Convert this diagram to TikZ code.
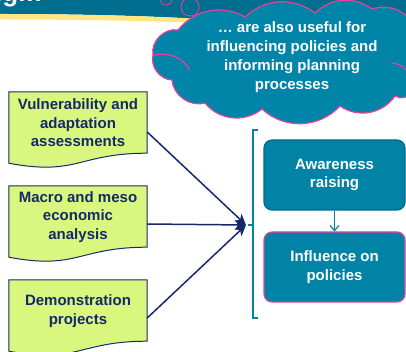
\documentclass[tikz,border=0pt]{standalone}
\usepackage{fontspec}
\setmainfont{Liberation Sans}
\usepackage{xcolor}
\usepackage{tikz}
\usetikzlibrary{arrows.meta,backgrounds}

\definecolor{headteal}{HTML}{006F8F}
\definecolor{cloudteal}{HTML}{0084A8}
\definecolor{boxteal}{HTML}{0083A5}
\definecolor{darkteal}{HTML}{006A85}
\definecolor{pinkline}{HTML}{E8409A}
\definecolor{docfill}{HTML}{D9F77E}
\definecolor{navy}{HTML}{15296A}
\definecolor{stripe}{HTML}{FFE680}

\tikzset{
  docbox/.style={minimum width=138pt,minimum height=62pt,align=center,
    text=navy,font=\bfseries\fontsize{15}{18.5}\selectfont},
  docline/.style={draw=navy,fill=docfill,line width=1pt},
  tealbox/.style={draw=darkteal,fill=boxteal,line width=1.2pt,rounded corners=8pt,
    minimum width=141pt,minimum height=70pt,align=center,text=white,
    font=\bfseries\fontsize{15}{18.5}\selectfont},
  feed/.style={draw=navy,line width=1.5pt,-{Stealth[length=11pt,width=10pt,inset=3pt]}},
  bracketline/.style={draw=boxteal,line width=1.2pt},
  bubble/.style={draw=pinkline,fill=headteal,line width=0.8pt},
  puff/.style={draw=pinkline,fill=cloudteal,line width=1.2pt}
}

\begin{document}
\begin{tikzpicture}[x=1pt,y=-1pt]
    \useasboundingbox (0,0) rectangle (406,352);
    \clip (0,0) rectangle (406,352);
    % header band
    \fill[headteal] (0,0) -- (406,0) -- (406,24) -- (200,19) .. controls (150,16) and (80,14) .. (0,14) -- cycle;
    \fill[stripe] (0,14) .. controls (80,14) and (150,16) .. (200,19) -- (200,23) .. controls (150,21) and (80,19.5) .. (0,19.5) -- cycle;
    \node[anchor=base east,text=white,font=\bfseries\fontsize{26}{30}\selectfont] (title) at (45,2) {Paradigm};
    \draw[bubble] (166,-1) circle (6);
    \draw[bubble] (190,7) circle (9);

    % cloud
    \draw[puff] (153,55) to[bend left=55] (178,30) to[bend left=40] (245,17)
      to[bend left=40] (315,13) to[bend left=40] (372,9) to[bend left=35] (412,22)
      -- (412,92) to[bend left=45] (395,96) to[bend left=45] (340,106)
      to[bend left=45] (262,109) to[bend left=45] (205,103) to[bend left=50] (172,80)
      to[bend left=50] cycle;
    \draw[draw=pinkline,line width=1.2pt] (154,55) to[bend left=35] (190,70);
    \draw[draw=pinkline,line width=1.2pt] (392,63) to[bend left=20] (406,70);
    \node[align=center,text=white,font=\bfseries\fontsize{15}{19}\selectfont] (note) at (292,57)
      {\ldots{} are also useful for\\influencing policies and\\informing planning\\processes};

    % inputs
    \node[docbox] (vuln) at (78,123) {Vulnerability and\\adaptation\\assessments};
    \node[docbox] (macro) at (78,217) {Macro and meso\\economic\\analysis};
    \node[docbox] (demo) at (78,311) {Demonstration\\projects};
    \begin{scope}[on background layer]
      \foreach \n in {vuln,macro,demo}
        \draw[docline] (\n.north west) -- (\n.north east) -- ([yshift=1pt]\n.south east)
          .. controls ([xshift=-69pt,yshift=1pt]\n.south east) and ([xshift=69pt,yshift=-22pt]\n.south west)
          .. ([yshift=-9pt]\n.south west) -- cycle;
    \end{scope}

    % outcomes
    \node[tealbox] (aware) at (334.5,175) {Awareness\\raising};
    \node[tealbox,draw=pinkline] (influence) at (334.5,267) {Influence on\\policies};
    \draw[draw=boxteal,line width=1.2pt,-{Straight Barb[length=5pt,width=9pt]}] (aware) -- (influence);

    \draw[bracketline] (258,130) -- (253,130) -- (253,318) -- (258,318);
    \draw[bracketline] (248,225) -- (253,225);
    \coordinate (hub) at (246,225);

    \draw[feed] ([yshift=-9pt]vuln.east) -- (hub);
    \draw[feed] ([yshift=-7pt]macro.east) -- (hub);
    \draw[feed] ([yshift=-7pt]demo.east) -- (hub);
  \end{tikzpicture}
\end{document}
